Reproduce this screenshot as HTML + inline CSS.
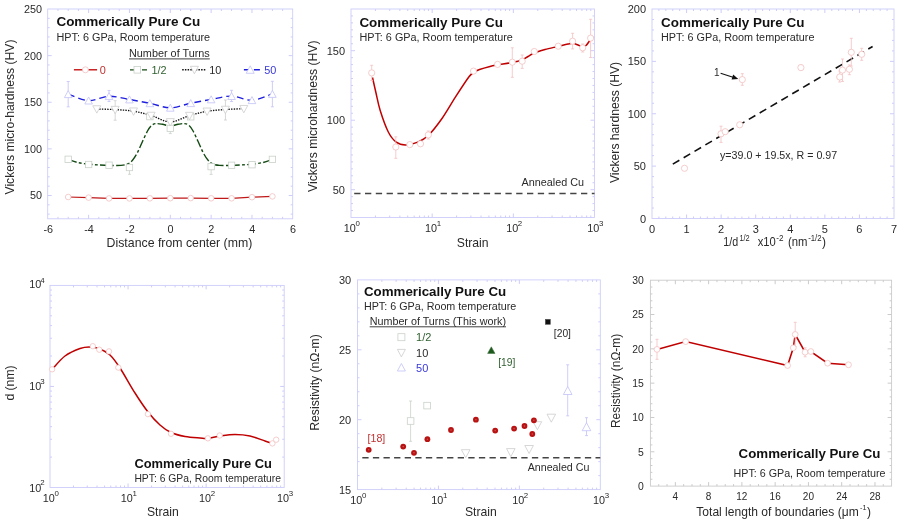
<!DOCTYPE html>
<html><head><meta charset="utf-8"><title>Commerically Pure Cu</title>
<style>html,body{margin:0;padding:0;background:#fff}svg{display:block}</style></head>
<body>
<svg width="900" height="522" viewBox="0 0 900 522" font-family='"Liberation Sans", sans-serif' fill="#2a2a2a">
<rect x="47.70" y="9.00" width="245.00" height="209.80" fill="none" stroke="#cdcdfb" stroke-width="0.9"/>
<path d="M88.62 218.80v-4M88.62 9.00v4M129.46 218.80v-4M129.46 9.00v4M170.30 218.80v-4M170.30 9.00v4M211.14 218.80v-4M211.14 9.00v4M251.98 218.80v-4M251.98 9.00v4M57.99 218.80v-2M57.99 9.00v2M68.20 218.80v-2M68.20 9.00v2M78.41 218.80v-2M78.41 9.00v2M98.83 218.80v-2M98.83 9.00v2M109.04 218.80v-2M109.04 9.00v2M119.25 218.80v-2M119.25 9.00v2M139.67 218.80v-2M139.67 9.00v2M149.88 218.80v-2M149.88 9.00v2M160.09 218.80v-2M160.09 9.00v2M180.51 218.80v-2M180.51 9.00v2M190.72 218.80v-2M190.72 9.00v2M200.93 218.80v-2M200.93 9.00v2M221.35 218.80v-2M221.35 9.00v2M231.56 218.80v-2M231.56 9.00v2M241.77 218.80v-2M241.77 9.00v2M262.19 218.80v-2M262.19 9.00v2M272.40 218.80v-2M272.40 9.00v2M282.61 218.80v-2M282.61 9.00v2M47.70 195.49h4M292.70 195.49h-4M47.70 148.87h4M292.70 148.87h-4M47.70 102.25h4M292.70 102.25h-4M47.70 55.63h4M292.70 55.63h-4M47.70 214.14h2M292.70 214.14h-2M47.70 204.81h2M292.70 204.81h-2M47.70 186.17h2M292.70 186.17h-2M47.70 176.84h2M292.70 176.84h-2M47.70 167.52h2M292.70 167.52h-2M47.70 158.19h2M292.70 158.19h-2M47.70 139.55h2M292.70 139.55h-2M47.70 130.22h2M292.70 130.22h-2M47.70 120.90h2M292.70 120.90h-2M47.70 111.57h2M292.70 111.57h-2M47.70 92.93h2M292.70 92.93h-2M47.70 83.60h2M292.70 83.60h-2M47.70 74.28h2M292.70 74.28h-2M47.70 64.95h2M292.70 64.95h-2M47.70 46.31h2M292.70 46.31h-2M47.70 36.98h2M292.70 36.98h-2M47.70 27.66h2M292.70 27.66h-2M47.70 18.33h2M292.70 18.33h-2" stroke="#cdcdfb" stroke-width="1" fill="none"/>
<text x="48.18" y="233.30" font-size="10.8" text-anchor="middle">-6</text>
<text x="89.02" y="233.30" font-size="10.8" text-anchor="middle">-4</text>
<text x="129.86" y="233.30" font-size="10.8" text-anchor="middle">-2</text>
<text x="170.50" y="233.30" font-size="10.8" text-anchor="middle">0</text>
<text x="211.34" y="233.30" font-size="10.8" text-anchor="middle">2</text>
<text x="252.18" y="233.30" font-size="10.8" text-anchor="middle">4</text>
<text x="293.02" y="233.30" font-size="10.8" text-anchor="middle">6</text>
<text x="42.00" y="199.39" font-size="10.8" text-anchor="end">50</text>
<text x="42.00" y="152.77" font-size="10.8" text-anchor="end">100</text>
<text x="42.00" y="106.15" font-size="10.8" text-anchor="end">150</text>
<text x="42.00" y="59.53" font-size="10.8" text-anchor="end">200</text>
<text x="42.00" y="12.91" font-size="10.8" text-anchor="end">250</text>
<text x="106.60" y="246.70" font-size="12.2" textLength="145.7" lengthAdjust="spacingAndGlyphs">Distance from center (mm)</text>
<text x="13.50" y="117.00" font-size="12.2" text-anchor="middle" textLength="155.0" lengthAdjust="spacingAndGlyphs" transform="rotate(-90 13.50 117.00)">Vickers micro-hardness (HV)</text>
<text x="56.40" y="26.30" font-size="13.5" font-weight="bold" fill="#111" textLength="143.9" lengthAdjust="spacingAndGlyphs">Commerically Pure Cu</text>
<text x="56.40" y="41.10" font-size="10.85" textLength="153.7" lengthAdjust="spacingAndGlyphs">HPT: 6 GPa, Room temperature</text>
<text x="129.00" y="56.80" font-size="11" textLength="80.8" lengthAdjust="spacingAndGlyphs">Number of Turns</text>
<path d="M129 58.9H209.8" stroke="#2a2a2a" stroke-width="0.9"/>
<path d="M68.20 94.20C71.60 95.27 81.81 100.27 88.62 100.60C95.43 100.93 102.23 96.38 109.04 96.20C115.85 96.02 122.65 98.32 129.46 99.50C136.27 100.68 143.07 101.92 149.88 103.30C156.69 104.68 163.49 107.82 170.30 107.80C177.11 107.78 183.91 104.60 190.72 103.20C197.53 101.80 204.33 100.58 211.14 99.40C217.95 98.22 224.75 95.97 231.56 96.10C238.37 96.23 245.17 100.55 251.98 100.20C258.79 99.85 269.00 95.03 272.40 94.00" fill="none" stroke="#1f1fe0" stroke-width="1.4" stroke-dasharray="6.8 4"/>
<path d="M96.79 109.00C99.85 109.10 109.04 109.23 115.17 109.60C121.29 109.97 127.55 110.22 133.54 111.20C139.53 112.18 144.98 113.72 151.11 115.50C157.23 117.28 163.90 121.88 170.30 121.90C176.70 121.92 183.37 117.37 189.49 115.60C195.62 113.83 201.07 112.32 207.06 111.30C213.05 110.28 219.31 109.93 225.43 109.50C231.56 109.07 240.75 108.83 243.81 108.70" fill="none" stroke="#111" stroke-width="1.35" stroke-dasharray="1.4 1.2"/>
<path d="M68.40 159.60C70.00 160.10 74.58 161.83 78.00 162.60C81.42 163.37 85.23 163.80 88.90 164.20C92.57 164.60 96.60 164.80 100.00 165.00C103.40 165.20 105.80 165.33 109.30 165.40C112.80 165.47 117.97 165.63 121.00 165.40C124.03 165.17 125.58 164.85 127.50 164.00C129.42 163.15 130.83 162.22 132.50 160.30C134.17 158.38 135.83 155.63 137.50 152.50C139.17 149.37 140.83 145.08 142.50 141.50C144.17 137.92 146.00 133.67 147.50 131.00C149.00 128.33 150.08 126.73 151.50 125.50C152.92 124.27 154.17 123.80 156.00 123.60C157.83 123.40 160.12 123.90 162.50 124.30C164.88 124.70 167.70 126.00 170.30 126.00C172.90 126.00 175.72 124.70 178.10 124.30C180.48 123.90 182.77 123.40 184.60 123.60C186.43 123.80 187.68 124.27 189.10 125.50C190.52 126.73 191.60 128.33 193.10 131.00C194.60 133.67 196.43 137.92 198.10 141.50C199.77 145.08 201.43 149.37 203.10 152.50C204.77 155.63 206.43 158.38 208.10 160.30C209.77 162.22 211.18 163.15 213.10 164.00C215.02 164.85 216.57 165.17 219.60 165.40C222.63 165.63 227.80 165.47 231.30 165.40C234.80 165.33 237.20 165.20 240.60 165.00C244.00 164.80 248.03 164.60 251.70 164.20C255.37 163.80 259.18 163.37 262.60 162.60C266.02 161.83 270.60 160.10 272.20 159.60" fill="none" stroke="#134a13" stroke-width="1.4" stroke-dasharray="8.6 2.3 2.9 2.3"/>
<path d="M68.20 197.00L88.62 197.60L109.04 198.40L129.46 198.40L149.88 198.30L170.30 198.20L190.72 198.10L211.14 198.30L231.56 198.30L251.98 197.20L272.40 196.40" fill="none" stroke="#c01818" stroke-width="1.25"/>
<path d="M68.20 81.50V106.80M66.70 81.50h3.0M66.70 106.80h3.0" stroke="#c2c2f7" stroke-width="0.8" fill="none"/>
<path d="M272.40 81.30V106.80M270.90 81.30h3.0M270.90 106.80h3.0" stroke="#c2c2f7" stroke-width="0.8" fill="none"/>
<path d="M109.04 90.50V101.50M107.54 90.50h3.0M107.54 101.50h3.0" stroke="#c2c2f7" stroke-width="0.8" fill="none"/>
<path d="M231.56 90.30V101.50M230.06 90.30h3.0M230.06 101.50h3.0" stroke="#c2c2f7" stroke-width="0.8" fill="none"/>
<path d="M115.17 100.70V120.20M113.67 100.70h3.0M113.67 120.20h3.0" stroke="#cdcdcd" stroke-width="0.8" fill="none"/>
<path d="M225.43 100.00V120.00M223.93 100.00h3.0M223.93 120.00h3.0" stroke="#cdcdcd" stroke-width="0.8" fill="none"/>
<path d="M129.46 167.50V174.30M127.96 167.50h3.0M127.96 174.30h3.0" stroke="#c9d1c9" stroke-width="0.8" fill="none"/>
<path d="M211.14 167.50V174.40M209.64 167.50h3.0M209.64 174.40h3.0" stroke="#c9d1c9" stroke-width="0.8" fill="none"/>
<path d="M170.30 123.00V133.60M168.80 123.00h3.0M168.80 133.60h3.0" stroke="#c9d1c9" stroke-width="0.8" fill="none"/>
<rect x="65.00" y="156.10" width="6.4" height="6.4" fill="#fff" stroke="#c9d1c9" stroke-width="0.8"/>
<rect x="85.42" y="161.30" width="6.4" height="6.4" fill="#fff" stroke="#c9d1c9" stroke-width="0.8"/>
<rect x="105.84" y="162.00" width="6.4" height="6.4" fill="#fff" stroke="#c9d1c9" stroke-width="0.8"/>
<rect x="126.26" y="164.30" width="6.4" height="6.4" fill="#fff" stroke="#c9d1c9" stroke-width="0.8"/>
<rect x="146.68" y="113.40" width="6.4" height="6.4" fill="#fff" stroke="#c9d1c9" stroke-width="0.8"/>
<rect x="167.10" y="125.20" width="6.4" height="6.4" fill="#fff" stroke="#c9d1c9" stroke-width="0.8"/>
<rect x="187.52" y="113.60" width="6.4" height="6.4" fill="#fff" stroke="#c9d1c9" stroke-width="0.8"/>
<rect x="207.94" y="163.40" width="6.4" height="6.4" fill="#fff" stroke="#c9d1c9" stroke-width="0.8"/>
<rect x="228.36" y="162.10" width="6.4" height="6.4" fill="#fff" stroke="#c9d1c9" stroke-width="0.8"/>
<rect x="248.78" y="161.50" width="6.4" height="6.4" fill="#fff" stroke="#c9d1c9" stroke-width="0.8"/>
<rect x="269.20" y="156.20" width="6.4" height="6.4" fill="#fff" stroke="#c9d1c9" stroke-width="0.8"/>
<polygon points="92.79,105.74 100.79,105.74 96.79,113.14" fill="#fff" stroke="#cdcdcd" stroke-width="0.8"/>
<polygon points="111.17,106.34 119.17,106.34 115.17,113.74" fill="#fff" stroke="#cdcdcd" stroke-width="0.8"/>
<polygon points="129.54,107.94 137.54,107.94 133.54,115.34" fill="#fff" stroke="#cdcdcd" stroke-width="0.8"/>
<polygon points="147.11,112.24 155.11,112.24 151.11,119.64" fill="#fff" stroke="#cdcdcd" stroke-width="0.8"/>
<polygon points="166.30,118.64 174.30,118.64 170.30,126.04" fill="#fff" stroke="#cdcdcd" stroke-width="0.8"/>
<polygon points="185.49,112.34 193.49,112.34 189.49,119.74" fill="#fff" stroke="#cdcdcd" stroke-width="0.8"/>
<polygon points="203.06,108.04 211.06,108.04 207.06,115.44" fill="#fff" stroke="#cdcdcd" stroke-width="0.8"/>
<polygon points="221.43,106.24 229.43,106.24 225.43,113.64" fill="#fff" stroke="#cdcdcd" stroke-width="0.8"/>
<polygon points="239.81,105.44 247.81,105.44 243.81,112.84" fill="#fff" stroke="#cdcdcd" stroke-width="0.8"/>
<polygon points="64.40,97.60 72.00,97.60 68.20,90.60" fill="#fff" stroke="#c2c2f7" stroke-width="0.8"/>
<polygon points="84.82,104.00 92.42,104.00 88.62,97.00" fill="#fff" stroke="#c2c2f7" stroke-width="0.8"/>
<polygon points="105.24,99.60 112.84,99.60 109.04,92.60" fill="#fff" stroke="#c2c2f7" stroke-width="0.8"/>
<polygon points="125.66,102.90 133.26,102.90 129.46,95.90" fill="#fff" stroke="#c2c2f7" stroke-width="0.8"/>
<polygon points="146.08,106.70 153.68,106.70 149.88,99.70" fill="#fff" stroke="#c2c2f7" stroke-width="0.8"/>
<polygon points="166.50,111.20 174.10,111.20 170.30,104.20" fill="#fff" stroke="#c2c2f7" stroke-width="0.8"/>
<polygon points="186.92,106.60 194.52,106.60 190.72,99.60" fill="#fff" stroke="#c2c2f7" stroke-width="0.8"/>
<polygon points="207.34,102.80 214.94,102.80 211.14,95.80" fill="#fff" stroke="#c2c2f7" stroke-width="0.8"/>
<polygon points="227.76,99.50 235.36,99.50 231.56,92.50" fill="#fff" stroke="#c2c2f7" stroke-width="0.8"/>
<polygon points="248.18,103.60 255.78,103.60 251.98,96.60" fill="#fff" stroke="#c2c2f7" stroke-width="0.8"/>
<polygon points="268.60,97.40 276.20,97.40 272.40,90.40" fill="#fff" stroke="#c2c2f7" stroke-width="0.8"/>
<circle cx="68.20" cy="197.00" r="2.8" fill="#fff" stroke="#f2c0c0" stroke-width="0.8"/>
<circle cx="88.62" cy="197.60" r="2.8" fill="#fff" stroke="#f2c0c0" stroke-width="0.8"/>
<circle cx="109.04" cy="198.40" r="2.8" fill="#fff" stroke="#f2c0c0" stroke-width="0.8"/>
<circle cx="129.46" cy="198.40" r="2.8" fill="#fff" stroke="#f2c0c0" stroke-width="0.8"/>
<circle cx="149.88" cy="198.30" r="2.8" fill="#fff" stroke="#f2c0c0" stroke-width="0.8"/>
<circle cx="170.30" cy="198.20" r="2.8" fill="#fff" stroke="#f2c0c0" stroke-width="0.8"/>
<circle cx="190.72" cy="198.10" r="2.8" fill="#fff" stroke="#f2c0c0" stroke-width="0.8"/>
<circle cx="211.14" cy="198.30" r="2.8" fill="#fff" stroke="#f2c0c0" stroke-width="0.8"/>
<circle cx="231.56" cy="198.30" r="2.8" fill="#fff" stroke="#f2c0c0" stroke-width="0.8"/>
<circle cx="251.98" cy="197.20" r="2.8" fill="#fff" stroke="#f2c0c0" stroke-width="0.8"/>
<circle cx="272.40" cy="196.40" r="2.8" fill="#fff" stroke="#f2c0c0" stroke-width="0.8"/>
<path d="M73.9 69.8H97.1" fill="none" stroke="#c00000" stroke-width="1.3"/>
<circle cx="85.40" cy="69.80" r="3.0" fill="#fff" stroke="#f2c0c0" stroke-width="0.8"/>
<text x="99.80" y="73.80" font-size="10.9" fill="#c03030">0</text>
<path d="M130 69.8H147" fill="none" stroke="#134a13" stroke-width="1.3" stroke-dasharray="6 2 2 2"/>
<rect x="134.00" y="66.50" width="6.6" height="6.6" fill="#fff" stroke="#c9d1c9" stroke-width="0.8"/>
<text x="151.50" y="73.80" font-size="10.9" fill="#2f5f2f">1/2</text>
<path d="M182.2 69.8H206.1" fill="none" stroke="#111" stroke-width="1.5" stroke-dasharray="1.5 1.2"/>
<polygon points="190.40,66.30 198.40,66.30 194.40,73.80" fill="#fff" stroke="#cdcdcd" stroke-width="0.8"/>
<text x="209.30" y="73.80" font-size="10.9">10</text>
<path d="M243.9 69.8H260.7" fill="none" stroke="#1f1fe0" stroke-width="1.5" stroke-dasharray="6 4"/>
<polygon points="246.20,73.30 254.20,73.30 250.20,65.80" fill="#fff" stroke="#c2c2f7" stroke-width="0.8"/>
<text x="264.30" y="73.80" font-size="10.9" fill="#3838d8">50</text>
<rect x="351.00" y="9.00" width="243.50" height="208.50" fill="none" stroke="#cdcdfb" stroke-width="0.9"/>
<path d="M432.17 217.50v-4M432.17 9.00v4M513.33 217.50v-4M513.33 9.00v4M375.43 217.50v-2M375.43 9.00v2M389.73 217.50v-2M389.73 9.00v2M399.87 217.50v-2M399.87 9.00v2M407.73 217.50v-2M407.73 9.00v2M414.16 217.50v-2M414.16 9.00v2M419.59 217.50v-2M419.59 9.00v2M424.30 217.50v-2M424.30 9.00v2M428.45 217.50v-2M428.45 9.00v2M456.60 217.50v-2M456.60 9.00v2M470.89 217.50v-2M470.89 9.00v2M481.03 217.50v-2M481.03 9.00v2M488.90 217.50v-2M488.90 9.00v2M495.33 217.50v-2M495.33 9.00v2M500.76 217.50v-2M500.76 9.00v2M505.47 217.50v-2M505.47 9.00v2M509.62 217.50v-2M509.62 9.00v2M537.77 217.50v-2M537.77 9.00v2M552.06 217.50v-2M552.06 9.00v2M562.20 217.50v-2M562.20 9.00v2M570.07 217.50v-2M570.07 9.00v2M576.49 217.50v-2M576.49 9.00v2M581.93 217.50v-2M581.93 9.00v2M586.63 217.50v-2M586.63 9.00v2M590.79 217.50v-2M590.79 9.00v2M351.00 189.70h4M594.50 189.70h-4M351.00 120.20h4M594.50 120.20h-4M351.00 50.70h4M594.50 50.70h-4M351.00 210.55h2M594.50 210.55h-2M351.00 203.60h2M594.50 203.60h-2M351.00 196.65h2M594.50 196.65h-2M351.00 182.75h2M594.50 182.75h-2M351.00 175.80h2M594.50 175.80h-2M351.00 168.85h2M594.50 168.85h-2M351.00 161.90h2M594.50 161.90h-2M351.00 154.95h2M594.50 154.95h-2M351.00 148.00h2M594.50 148.00h-2M351.00 141.05h2M594.50 141.05h-2M351.00 134.10h2M594.50 134.10h-2M351.00 127.15h2M594.50 127.15h-2M351.00 113.25h2M594.50 113.25h-2M351.00 106.30h2M594.50 106.30h-2M351.00 99.35h2M594.50 99.35h-2M351.00 92.40h2M594.50 92.40h-2M351.00 85.45h2M594.50 85.45h-2M351.00 78.50h2M594.50 78.50h-2M351.00 71.55h2M594.50 71.55h-2M351.00 64.60h2M594.50 64.60h-2M351.00 57.65h2M594.50 57.65h-2M351.00 43.75h2M594.50 43.75h-2M351.00 36.80h2M594.50 36.80h-2M351.00 29.85h2M594.50 29.85h-2M351.00 22.90h2M594.50 22.90h-2M351.00 15.95h2M594.50 15.95h-2" stroke="#cdcdfb" stroke-width="1" fill="none"/>
<text x="343.80" y="231.80" font-size="10.8">10</text>
<text x="355.50" y="226.20" font-size="7.9">0</text>
<text x="424.96" y="231.80" font-size="10.8">10</text>
<text x="436.67" y="226.20" font-size="7.9">1</text>
<text x="506.13" y="231.80" font-size="10.8">10</text>
<text x="517.84" y="226.20" font-size="7.9">2</text>
<text x="587.30" y="231.80" font-size="10.8">10</text>
<text x="599.00" y="226.20" font-size="7.9">3</text>
<text x="345.00" y="193.70" font-size="11" text-anchor="end">50</text>
<text x="345.00" y="124.20" font-size="11" text-anchor="end">100</text>
<text x="345.00" y="54.70" font-size="11" text-anchor="end">150</text>
<text x="472.70" y="246.70" font-size="12.2" text-anchor="middle">Strain</text>
<text x="317.20" y="116.20" font-size="12.2" text-anchor="middle" textLength="151.5" lengthAdjust="spacingAndGlyphs" transform="rotate(-90 317.20 116.20)">Vickers microhardness (HV)</text>
<text x="359.40" y="26.70" font-size="13.5" font-weight="bold" fill="#111" textLength="143.5" lengthAdjust="spacingAndGlyphs">Commerically Pure Cu</text>
<text x="359.40" y="41.20" font-size="10.85" textLength="153.5" lengthAdjust="spacingAndGlyphs">HPT: 6 GPa, Room temperature</text>
<text x="521.50" y="186.20" font-size="11" textLength="62.5" lengthAdjust="spacingAndGlyphs">Annealed Cu</text>
<path d="M354.2 193.5H594.5" fill="none" stroke="#444" stroke-width="1.6" stroke-dasharray="6.3 4.5"/>
<path d="M372.50 77.50C373.08 80.08 374.72 87.50 376.00 93.00C377.28 98.50 378.15 104.00 380.20 110.50C382.25 117.00 385.62 126.72 388.30 132.00C390.98 137.28 393.40 140.05 396.30 142.20C399.20 144.35 402.12 144.92 405.70 144.90C409.28 144.88 414.00 143.72 417.80 142.10C421.60 140.48 424.47 139.13 428.50 135.20C432.53 131.27 437.52 124.85 442.00 118.50C446.48 112.15 450.93 104.02 455.40 97.10C459.87 90.18 465.70 81.13 468.80 77.00C471.90 72.87 472.22 73.55 474.00 72.30C475.78 71.05 476.83 70.48 479.50 69.50C482.17 68.52 486.98 67.17 490.00 66.40C493.02 65.63 493.93 65.55 497.60 64.90C501.27 64.25 507.93 63.32 512.00 62.50C516.07 61.68 519.33 61.00 522.00 60.00C524.67 59.00 526.00 57.67 528.00 56.50C530.00 55.33 531.17 54.17 534.00 53.00C536.83 51.83 541.00 50.60 545.00 49.50C549.00 48.40 554.17 47.32 558.00 46.40C561.83 45.48 565.50 44.52 568.00 44.00C570.50 43.48 571.33 43.13 573.00 43.30C574.67 43.47 576.42 44.42 578.00 45.00C579.58 45.58 581.17 46.72 582.50 46.80C583.83 46.88 584.65 46.72 586.00 45.50C587.35 44.28 589.83 40.50 590.60 39.50" fill="none" stroke="#c00000" stroke-width="1.5"/>
<path d="M371.70 65.30V80.50M370.20 65.30h3.0M370.20 80.50h3.0" stroke="#f2c0c0" stroke-width="0.8" fill="none"/>
<path d="M395.80 136.80V158.30M394.30 136.80h3.0M394.30 158.30h3.0" stroke="#f2c0c0" stroke-width="0.8" fill="none"/>
<path d="M428.30 131.00V139.00M426.80 131.00h3.0M426.80 139.00h3.0" stroke="#f2c0c0" stroke-width="0.8" fill="none"/>
<path d="M512.30 47.80V77.30M510.80 47.80h3.0M510.80 77.30h3.0" stroke="#f2c0c0" stroke-width="0.8" fill="none"/>
<path d="M522.20 55.00V68.40M520.70 55.00h3.0M520.70 68.40h3.0" stroke="#f2c0c0" stroke-width="0.8" fill="none"/>
<path d="M572.60 33.30V48.90M571.10 33.30h3.0M571.10 48.90h3.0" stroke="#f2c0c0" stroke-width="0.8" fill="none"/>
<path d="M582.70 44.00V52.00M581.20 44.00h3.0M581.20 52.00h3.0" stroke="#f2c0c0" stroke-width="0.8" fill="none"/>
<path d="M590.60 19.30V57.50M589.10 19.30h3.0M589.10 57.50h3.0" stroke="#f2c0c0" stroke-width="0.8" fill="none"/>
<circle cx="371.70" cy="72.90" r="3.1" fill="#fff" stroke="#f2c0c0" stroke-width="0.8"/>
<circle cx="395.80" cy="147.00" r="3.1" fill="#fff" stroke="#f2c0c0" stroke-width="0.8"/>
<circle cx="409.80" cy="144.60" r="3.1" fill="#fff" stroke="#f2c0c0" stroke-width="0.8"/>
<circle cx="420.50" cy="143.80" r="3.1" fill="#fff" stroke="#f2c0c0" stroke-width="0.8"/>
<circle cx="428.30" cy="134.90" r="3.1" fill="#fff" stroke="#f2c0c0" stroke-width="0.8"/>
<circle cx="473.50" cy="71.10" r="3.1" fill="#fff" stroke="#f2c0c0" stroke-width="0.8"/>
<circle cx="497.60" cy="64.40" r="3.1" fill="#fff" stroke="#f2c0c0" stroke-width="0.8"/>
<circle cx="512.30" cy="62.20" r="3.1" fill="#fff" stroke="#f2c0c0" stroke-width="0.8"/>
<circle cx="522.20" cy="61.20" r="3.1" fill="#fff" stroke="#f2c0c0" stroke-width="0.8"/>
<circle cx="534.30" cy="51.50" r="3.1" fill="#fff" stroke="#f2c0c0" stroke-width="0.8"/>
<circle cx="558.20" cy="46.20" r="3.1" fill="#fff" stroke="#f2c0c0" stroke-width="0.8"/>
<circle cx="572.60" cy="41.20" r="3.1" fill="#fff" stroke="#f2c0c0" stroke-width="0.8"/>
<circle cx="582.70" cy="47.80" r="3.1" fill="#fff" stroke="#f2c0c0" stroke-width="0.8"/>
<circle cx="590.60" cy="38.10" r="3.1" fill="#fff" stroke="#f2c0c0" stroke-width="0.8"/>
<rect x="652.00" y="9.00" width="242.00" height="209.50" fill="none" stroke="#cdcdfb" stroke-width="0.9"/>
<path d="M686.57 218.50v-4M686.57 9.00v4M721.14 218.50v-4M721.14 9.00v4M755.71 218.50v-4M755.71 9.00v4M790.29 218.50v-4M790.29 9.00v4M824.86 218.50v-4M824.86 9.00v4M859.43 218.50v-4M859.43 9.00v4M658.91 218.50v-2M658.91 9.00v2M665.83 218.50v-2M665.83 9.00v2M672.74 218.50v-2M672.74 9.00v2M679.66 218.50v-2M679.66 9.00v2M693.49 218.50v-2M693.49 9.00v2M700.40 218.50v-2M700.40 9.00v2M707.31 218.50v-2M707.31 9.00v2M714.23 218.50v-2M714.23 9.00v2M728.06 218.50v-2M728.06 9.00v2M734.97 218.50v-2M734.97 9.00v2M741.89 218.50v-2M741.89 9.00v2M748.80 218.50v-2M748.80 9.00v2M762.63 218.50v-2M762.63 9.00v2M769.54 218.50v-2M769.54 9.00v2M776.46 218.50v-2M776.46 9.00v2M783.37 218.50v-2M783.37 9.00v2M797.20 218.50v-2M797.20 9.00v2M804.11 218.50v-2M804.11 9.00v2M811.03 218.50v-2M811.03 9.00v2M817.94 218.50v-2M817.94 9.00v2M831.77 218.50v-2M831.77 9.00v2M838.69 218.50v-2M838.69 9.00v2M845.60 218.50v-2M845.60 9.00v2M852.51 218.50v-2M852.51 9.00v2M866.34 218.50v-2M866.34 9.00v2M873.26 218.50v-2M873.26 9.00v2M880.17 218.50v-2M880.17 9.00v2M887.09 218.50v-2M887.09 9.00v2M652.00 166.12h4M894.00 166.12h-4M652.00 113.75h4M894.00 113.75h-4M652.00 61.37h4M894.00 61.37h-4M652.00 208.03h2M894.00 208.03h-2M652.00 197.55h2M894.00 197.55h-2M652.00 187.07h2M894.00 187.07h-2M652.00 176.60h2M894.00 176.60h-2M652.00 155.65h2M894.00 155.65h-2M652.00 145.18h2M894.00 145.18h-2M652.00 134.70h2M894.00 134.70h-2M652.00 124.22h2M894.00 124.22h-2M652.00 103.27h2M894.00 103.27h-2M652.00 92.80h2M894.00 92.80h-2M652.00 82.32h2M894.00 82.32h-2M652.00 71.85h2M894.00 71.85h-2M652.00 50.90h2M894.00 50.90h-2M652.00 40.42h2M894.00 40.42h-2M652.00 29.95h2M894.00 29.95h-2M652.00 19.47h2M894.00 19.47h-2" stroke="#cdcdfb" stroke-width="1" fill="none"/>
<text x="652.00" y="233.00" font-size="11" text-anchor="middle">0</text>
<text x="686.57" y="233.00" font-size="11" text-anchor="middle">1</text>
<text x="721.14" y="233.00" font-size="11" text-anchor="middle">2</text>
<text x="755.71" y="233.00" font-size="11" text-anchor="middle">3</text>
<text x="790.29" y="233.00" font-size="11" text-anchor="middle">4</text>
<text x="824.86" y="233.00" font-size="11" text-anchor="middle">5</text>
<text x="859.43" y="233.00" font-size="11" text-anchor="middle">6</text>
<text x="894.00" y="233.00" font-size="11" text-anchor="middle">7</text>
<text x="646.00" y="222.50" font-size="11" text-anchor="end">0</text>
<text x="646.00" y="170.12" font-size="11" text-anchor="end">50</text>
<text x="646.00" y="117.75" font-size="11" text-anchor="end">100</text>
<text x="646.00" y="65.37" font-size="11" text-anchor="end">150</text>
<text x="646.00" y="13.00" font-size="11" text-anchor="end">200</text>
<text x="618.60" y="122.50" font-size="12.2" text-anchor="middle" textLength="121.2" lengthAdjust="spacingAndGlyphs" transform="rotate(-90 618.60 122.50)">Vickers hardness (HV)</text>
<text x="661.00" y="26.60" font-size="13.5" font-weight="bold" fill="#111" textLength="143.5" lengthAdjust="spacingAndGlyphs">Commerically Pure Cu</text>
<text x="661.00" y="41.20" font-size="10.85" textLength="153.5" lengthAdjust="spacingAndGlyphs">HPT: 6 GPa, Room temperature</text>
<text x="720.00" y="159.20" font-size="11" textLength="117.2" lengthAdjust="spacingAndGlyphs">y=39.0 + 19.5x, R = 0.97</text>
<path d="M672.8 164.1L872.6 46.5" fill="none" stroke="#111" stroke-width="1.6" stroke-dasharray="7.6 5"/>
<text x="714.00" y="76.40" font-size="10">1</text>
<path d="M720.6 73.3L733 77.3" stroke="#111" stroke-width="1.2" fill="none"/><polygon points="738.3,79 731.6,79.6 733.2,74.6" fill="#111"/>
<path d="M721.00 126.20V142.40M719.50 126.20h3.0M719.50 142.40h3.0" stroke="#f2c0c0" stroke-width="0.8" fill="none"/>
<path d="M742.30 73.70V85.30M740.80 73.70h3.0M740.80 85.30h3.0" stroke="#f2c0c0" stroke-width="0.8" fill="none"/>
<path d="M800.90 65.00V70.00M799.40 65.00h3.0M799.40 70.00h3.0" stroke="#f2c0c0" stroke-width="0.8" fill="none"/>
<path d="M839.70 71.00V82.00M838.20 71.00h3.0M838.20 82.00h3.0" stroke="#f2c0c0" stroke-width="0.8" fill="none"/>
<path d="M842.50 59.00V81.40M841.00 59.00h3.0M841.00 81.40h3.0" stroke="#f2c0c0" stroke-width="0.8" fill="none"/>
<path d="M849.40 65.00V74.70M847.90 65.00h3.0M847.90 74.70h3.0" stroke="#f2c0c0" stroke-width="0.8" fill="none"/>
<path d="M851.30 38.30V66.00M849.80 38.30h3.0M849.80 66.00h3.0" stroke="#f2c0c0" stroke-width="0.8" fill="none"/>
<path d="M861.70 48.30V60.30M860.20 48.30h3.0M860.20 60.30h3.0" stroke="#f2c0c0" stroke-width="0.8" fill="none"/>
<circle cx="684.50" cy="168.30" r="3.1" fill="#fff" stroke="#f2c0c0" stroke-width="0.8"/>
<circle cx="721.00" cy="133.80" r="3.1" fill="#fff" stroke="#f2c0c0" stroke-width="0.8"/>
<circle cx="725.20" cy="131.70" r="3.1" fill="#fff" stroke="#f2c0c0" stroke-width="0.8"/>
<circle cx="739.70" cy="124.80" r="3.1" fill="#fff" stroke="#f2c0c0" stroke-width="0.8"/>
<circle cx="742.30" cy="79.60" r="3.1" fill="#fff" stroke="#f2c0c0" stroke-width="0.8"/>
<circle cx="800.90" cy="67.60" r="3.1" fill="#fff" stroke="#f2c0c0" stroke-width="0.8"/>
<circle cx="839.70" cy="77.00" r="3.1" fill="#fff" stroke="#f2c0c0" stroke-width="0.8"/>
<circle cx="842.50" cy="70.10" r="3.1" fill="#fff" stroke="#f2c0c0" stroke-width="0.8"/>
<circle cx="849.40" cy="69.30" r="3.1" fill="#fff" stroke="#f2c0c0" stroke-width="0.8"/>
<circle cx="851.30" cy="52.30" r="3.1" fill="#fff" stroke="#f2c0c0" stroke-width="0.8"/>
<circle cx="861.70" cy="54.30" r="3.1" fill="#fff" stroke="#f2c0c0" stroke-width="0.8"/>
<text x="723.30" y="246.20" font-size="12" textLength="14.9" lengthAdjust="spacingAndGlyphs">1/d</text>
<text x="739.40" y="241.00" font-size="8.2" textLength="10.3" lengthAdjust="spacingAndGlyphs">1/2</text>
<text x="757.70" y="246.20" font-size="12" textLength="18.1" lengthAdjust="spacingAndGlyphs">x10</text>
<text x="776.30" y="241.00" font-size="8.2" textLength="7.2" lengthAdjust="spacingAndGlyphs">-2</text>
<text x="788.00" y="246.20" font-size="12" textLength="19.5" lengthAdjust="spacingAndGlyphs">(nm</text>
<text x="808.20" y="241.00" font-size="8.2" textLength="13.4" lengthAdjust="spacingAndGlyphs">-1/2</text>
<text x="822.00" y="246.20" font-size="12">)</text>
<rect x="50.00" y="285.40" width="234.20" height="202.10" fill="none" stroke="#cdcdfb" stroke-width="0.9"/>
<path d="M128.07 487.50v-4M128.07 285.40v4M206.13 487.50v-4M206.13 285.40v4M73.50 487.50v-2M73.50 285.40v2M87.25 487.50v-2M87.25 285.40v2M97.00 487.50v-2M97.00 285.40v2M104.57 487.50v-2M104.57 285.40v2M110.75 487.50v-2M110.75 285.40v2M115.97 487.50v-2M115.97 285.40v2M120.50 487.50v-2M120.50 285.40v2M124.49 487.50v-2M124.49 285.40v2M151.57 487.50v-2M151.57 285.40v2M165.31 487.50v-2M165.31 285.40v2M175.07 487.50v-2M175.07 285.40v2M182.63 487.50v-2M182.63 285.40v2M188.81 487.50v-2M188.81 285.40v2M194.04 487.50v-2M194.04 285.40v2M198.57 487.50v-2M198.57 285.40v2M202.56 487.50v-2M202.56 285.40v2M229.63 487.50v-2M229.63 285.40v2M243.38 487.50v-2M243.38 285.40v2M253.13 487.50v-2M253.13 285.40v2M260.70 487.50v-2M260.70 285.40v2M266.88 487.50v-2M266.88 285.40v2M272.11 487.50v-2M272.11 285.40v2M276.63 487.50v-2M276.63 285.40v2M280.63 487.50v-2M280.63 285.40v2M50.00 386.45h4M284.20 386.45h-4M50.00 457.08h2M284.20 457.08h-2M50.00 439.29h2M284.20 439.29h-2M50.00 426.66h2M284.20 426.66h-2M50.00 416.87h2M284.20 416.87h-2M50.00 408.87h2M284.20 408.87h-2M50.00 402.10h2M284.20 402.10h-2M50.00 396.24h2M284.20 396.24h-2M50.00 391.07h2M284.20 391.07h-2M50.00 356.03h2M284.20 356.03h-2M50.00 338.24h2M284.20 338.24h-2M50.00 325.61h2M284.20 325.61h-2M50.00 315.82h2M284.20 315.82h-2M50.00 307.82h2M284.20 307.82h-2M50.00 301.05h2M284.20 301.05h-2M50.00 295.19h2M284.20 295.19h-2M50.00 290.02h2M284.20 290.02h-2" stroke="#cdcdfb" stroke-width="1" fill="none"/>
<text x="42.80" y="501.50" font-size="10.8">10</text>
<text x="54.50" y="495.90" font-size="7.9">0</text>
<text x="120.86" y="501.50" font-size="10.8">10</text>
<text x="132.57" y="495.90" font-size="7.9">1</text>
<text x="198.93" y="501.50" font-size="10.8">10</text>
<text x="210.64" y="495.90" font-size="7.9">2</text>
<text x="277.00" y="501.50" font-size="10.8">10</text>
<text x="288.70" y="495.90" font-size="7.9">3</text>
<text x="29.20" y="491.80" font-size="10.8">10</text>
<text x="40.20" y="485.30" font-size="7.9">2</text>
<text x="29.20" y="390.35" font-size="10.8">10</text>
<text x="40.20" y="384.25" font-size="7.9">3</text>
<text x="29.20" y="288.30" font-size="10.8">10</text>
<text x="40.20" y="283.20" font-size="7.9">4</text>
<text x="162.80" y="516.40" font-size="12.2" text-anchor="middle">Strain</text>
<text x="13.60" y="383.00" font-size="12.2" text-anchor="middle" transform="rotate(-90 13.60 383.00)">d (nm)</text>
<text x="134.40" y="468.10" font-size="13" font-weight="bold" fill="#111" textLength="137.6" lengthAdjust="spacingAndGlyphs">Commerically Pure Cu</text>
<text x="134.40" y="482.20" font-size="10.5" textLength="146.6" lengthAdjust="spacingAndGlyphs">HPT: 6 GPa, Room temperature</text>
<path d="M52.00 369.50C54.17 367.25 60.33 359.50 65.00 356.00C69.67 352.50 75.83 350.00 80.00 348.50C84.17 347.00 86.67 346.92 90.00 347.00C93.33 347.08 96.67 347.67 100.00 349.00C103.33 350.33 106.67 351.83 110.00 355.00C113.33 358.17 115.83 361.67 120.00 368.00C124.17 374.33 130.33 385.67 135.00 393.00C139.67 400.33 143.83 406.67 148.00 412.00C152.17 417.33 156.17 421.58 160.00 425.00C163.83 428.42 166.83 430.58 171.00 432.50C175.17 434.42 180.17 435.58 185.00 436.50C189.83 437.42 196.17 437.70 200.00 438.00C203.83 438.30 204.67 438.63 208.00 438.30C211.33 437.97 215.50 436.63 220.00 436.00C224.50 435.37 230.00 434.50 235.00 434.50C240.00 434.50 245.00 434.92 250.00 436.00C255.00 437.08 261.25 439.73 265.00 441.00C268.75 442.27 271.25 443.17 272.50 443.60" fill="none" stroke="#c00000" stroke-width="1.5"/>
<circle cx="52.10" cy="369.30" r="2.7" fill="#fff" stroke="#f2c0c0" stroke-width="0.8"/>
<circle cx="92.80" cy="346.20" r="2.7" fill="#fff" stroke="#f2c0c0" stroke-width="0.8"/>
<circle cx="99.30" cy="349.70" r="2.7" fill="#fff" stroke="#f2c0c0" stroke-width="0.8"/>
<circle cx="109.00" cy="351.40" r="2.7" fill="#fff" stroke="#f2c0c0" stroke-width="0.8"/>
<circle cx="118.30" cy="367.60" r="2.7" fill="#fff" stroke="#f2c0c0" stroke-width="0.8"/>
<circle cx="147.90" cy="414.10" r="2.7" fill="#fff" stroke="#f2c0c0" stroke-width="0.8"/>
<circle cx="171.00" cy="433.80" r="2.7" fill="#fff" stroke="#f2c0c0" stroke-width="0.8"/>
<circle cx="207.90" cy="438.30" r="2.7" fill="#fff" stroke="#f2c0c0" stroke-width="0.8"/>
<circle cx="219.70" cy="435.50" r="2.7" fill="#fff" stroke="#f2c0c0" stroke-width="0.8"/>
<circle cx="272.40" cy="443.40" r="2.7" fill="#fff" stroke="#f2c0c0" stroke-width="0.8"/>
<circle cx="276.20" cy="439.70" r="2.7" fill="#fff" stroke="#f2c0c0" stroke-width="0.8"/>
<rect x="357.50" y="279.90" width="242.80" height="209.70" fill="none" stroke="#cdcdfb" stroke-width="0.9"/>
<path d="M438.43 489.60v-4M438.43 279.90v4M519.37 489.60v-4M519.37 279.90v4M381.86 489.60v-2M381.86 279.90v2M396.12 489.60v-2M396.12 279.90v2M406.23 489.60v-2M406.23 279.90v2M414.07 489.60v-2M414.07 279.90v2M420.48 489.60v-2M420.48 279.90v2M425.90 489.60v-2M425.90 279.90v2M430.59 489.60v-2M430.59 279.90v2M434.73 489.60v-2M434.73 279.90v2M462.80 489.60v-2M462.80 279.90v2M477.05 489.60v-2M477.05 279.90v2M487.16 489.60v-2M487.16 279.90v2M495.00 489.60v-2M495.00 279.90v2M501.41 489.60v-2M501.41 279.90v2M506.83 489.60v-2M506.83 279.90v2M511.52 489.60v-2M511.52 279.90v2M515.66 489.60v-2M515.66 279.90v2M543.73 489.60v-2M543.73 279.90v2M557.98 489.60v-2M557.98 279.90v2M568.09 489.60v-2M568.09 279.90v2M575.94 489.60v-2M575.94 279.90v2M582.35 489.60v-2M582.35 279.90v2M587.76 489.60v-2M587.76 279.90v2M592.46 489.60v-2M592.46 279.90v2M596.60 489.60v-2M596.60 279.90v2M357.50 419.70h4M600.30 419.70h-4M357.50 349.80h4M600.30 349.80h-4M357.50 475.62h2M600.30 475.62h-2M357.50 461.64h2M600.30 461.64h-2M357.50 447.66h2M600.30 447.66h-2M357.50 433.68h2M600.30 433.68h-2M357.50 405.72h2M600.30 405.72h-2M357.50 391.74h2M600.30 391.74h-2M357.50 377.76h2M600.30 377.76h-2M357.50 363.78h2M600.30 363.78h-2M357.50 335.82h2M600.30 335.82h-2M357.50 321.84h2M600.30 321.84h-2M357.50 307.86h2M600.30 307.86h-2M357.50 293.88h2M600.30 293.88h-2" stroke="#cdcdfb" stroke-width="1" fill="none"/>
<text x="350.30" y="503.80" font-size="10.8">10</text>
<text x="362.00" y="498.20" font-size="7.9">0</text>
<text x="431.23" y="503.80" font-size="10.8">10</text>
<text x="442.94" y="498.20" font-size="7.9">1</text>
<text x="512.16" y="503.80" font-size="10.8">10</text>
<text x="523.87" y="498.20" font-size="7.9">2</text>
<text x="593.10" y="503.80" font-size="10.8">10</text>
<text x="604.80" y="498.20" font-size="7.9">3</text>
<text x="351.20" y="493.60" font-size="11" text-anchor="end">15</text>
<text x="351.20" y="423.70" font-size="11" text-anchor="end">20</text>
<text x="351.20" y="353.80" font-size="11" text-anchor="end">25</text>
<text x="351.20" y="283.90" font-size="11" text-anchor="end">30</text>
<text x="480.90" y="516.20" font-size="12.2" text-anchor="middle">Strain</text>
<text x="319.00" y="382.50" font-size="12" text-anchor="middle" textLength="96.5" lengthAdjust="spacingAndGlyphs" transform="rotate(-90 319.00 382.50)">Resistivity (n&#937;-m)</text>
<text x="363.90" y="295.60" font-size="13.4" font-weight="bold" fill="#111" textLength="142.3" lengthAdjust="spacingAndGlyphs">Commerically Pure Cu</text>
<text x="363.90" y="309.80" font-size="11" textLength="152.4" lengthAdjust="spacingAndGlyphs">HPT: 6 GPa, Room temperature</text>
<text x="369.70" y="324.80" font-size="11" textLength="136.3" lengthAdjust="spacingAndGlyphs">Number of Turns (This work)</text>
<path d="M369.7 326.8H506" stroke="#2a2a2a" stroke-width="0.9"/>
<rect x="397.90" y="333.70" width="7" height="7" fill="#fff" stroke="#c9d1c9" stroke-width="0.8"/>
<text x="416.10" y="341.30" font-size="11" fill="#2f5f2f">1/2</text>
<polygon points="397.40,349.40 405.40,349.40 401.40,356.90" fill="#fff" stroke="#cdcdcd" stroke-width="0.8"/>
<text x="416.10" y="357.20" font-size="11">10</text>
<polygon points="397.40,371.00 405.40,371.00 401.40,363.50" fill="#fff" stroke="#c2c2f7" stroke-width="0.8"/>
<text x="416.10" y="371.80" font-size="11" fill="#3838d8">50</text>
<path d="M362.3 457.7H600.3" fill="none" stroke="#444" stroke-width="1.6" stroke-dasharray="6.3 4.3"/>
<text x="527.70" y="471.30" font-size="11" textLength="61.7" lengthAdjust="spacingAndGlyphs">Annealed Cu</text>
<text x="367.60" y="442.00" font-size="11" fill="#c03030" textLength="17.7" lengthAdjust="spacingAndGlyphs">[18]</text>
<text x="498.20" y="365.70" font-size="11" fill="#2f5f2f" textLength="17.2" lengthAdjust="spacingAndGlyphs">[19]</text>
<text x="553.80" y="337.00" font-size="11" textLength="17.2" lengthAdjust="spacingAndGlyphs">[20]</text>
<rect x="545.3" y="319.3" width="5" height="5" fill="#111" stroke="#555" stroke-width="0.6"/>
<polygon points="487.6,353.4 495,353.4 491.3,346.8" fill="#1d5a1d" stroke="#3a6a3a" stroke-width="0.5"/>
<path d="M410.60 401.00V441.30M409.10 401.00h3.0M409.10 441.30h3.0" stroke="#c9d1c9" stroke-width="0.8" fill="none"/>
<rect x="407.30" y="417.70" width="6.6" height="6.6" fill="#fff" stroke="#c9d1c9" stroke-width="0.8"/>
<rect x="423.80" y="402.30" width="6.6" height="6.6" fill="#fff" stroke="#c9d1c9" stroke-width="0.8"/>
<path d="M567.70 364.80V415.80M566.20 364.80h3.0M566.20 415.80h3.0" stroke="#c2c2f7" stroke-width="0.8" fill="none"/>
<path d="M586.50 417.70V435.60M585.00 417.70h3.0M585.00 435.60h3.0" stroke="#c2c2f7" stroke-width="0.8" fill="none"/>
<polygon points="461.40,449.70 470.00,449.70 465.70,457.70" fill="#fff" stroke="#cdcdcd" stroke-width="0.8"/>
<polygon points="506.50,448.60 515.10,448.60 510.80,456.60" fill="#fff" stroke="#cdcdcd" stroke-width="0.8"/>
<polygon points="524.80,445.50 533.40,445.50 529.10,453.50" fill="#fff" stroke="#cdcdcd" stroke-width="0.8"/>
<polygon points="533.10,421.70 541.70,421.70 537.40,429.70" fill="#fff" stroke="#cdcdcd" stroke-width="0.8"/>
<polygon points="547.00,414.20 555.60,414.20 551.30,422.20" fill="#fff" stroke="#cdcdcd" stroke-width="0.8"/>
<polygon points="563.40,394.50 572.00,394.50 567.70,386.50" fill="#fff" stroke="#c2c2f7" stroke-width="0.8"/>
<polygon points="582.20,430.70 590.80,430.70 586.50,422.70" fill="#fff" stroke="#c2c2f7" stroke-width="0.8"/>
<circle cx="368.7" cy="449.8" r="2.9" fill="#b81212"/><circle cx="368.7" cy="449.8" r="0.8" fill="#d05050"/>
<circle cx="403.2" cy="446.6" r="2.9" fill="#b81212"/><circle cx="403.2" cy="446.6" r="0.8" fill="#d05050"/>
<circle cx="414" cy="452.8" r="2.9" fill="#b81212"/><circle cx="414" cy="452.8" r="0.8" fill="#d05050"/>
<circle cx="427.4" cy="439.2" r="2.9" fill="#b81212"/><circle cx="427.4" cy="439.2" r="0.8" fill="#d05050"/>
<circle cx="451" cy="430" r="2.9" fill="#b81212"/><circle cx="451" cy="430" r="0.8" fill="#d05050"/>
<circle cx="475.9" cy="419.7" r="2.9" fill="#b81212"/><circle cx="475.9" cy="419.7" r="0.8" fill="#d05050"/>
<circle cx="495.2" cy="430.6" r="2.9" fill="#b81212"/><circle cx="495.2" cy="430.6" r="0.8" fill="#d05050"/>
<circle cx="514.1" cy="428.6" r="2.9" fill="#b81212"/><circle cx="514.1" cy="428.6" r="0.8" fill="#d05050"/>
<circle cx="524.5" cy="426" r="2.9" fill="#b81212"/><circle cx="524.5" cy="426" r="0.8" fill="#d05050"/>
<circle cx="533.9" cy="420.3" r="2.9" fill="#b81212"/><circle cx="533.9" cy="420.3" r="0.8" fill="#d05050"/>
<circle cx="532.3" cy="434" r="2.9" fill="#b81212"/><circle cx="532.3" cy="434" r="0.8" fill="#d05050"/>
<rect x="650.40" y="280.20" width="241.20" height="205.90" fill="none" stroke="#cbcbcb" stroke-width="0.9"/>
<path d="M675.35 486.10v-4M675.35 280.20v4M708.62 486.10v-4M708.62 280.20v4M741.89 486.10v-4M741.89 280.20v4M775.16 486.10v-4M775.16 280.20v4M808.43 486.10v-4M808.43 280.20v4M841.70 486.10v-4M841.70 280.20v4M874.97 486.10v-4M874.97 280.20v4M658.72 486.10v-2M658.72 280.20v2M667.03 486.10v-2M667.03 280.20v2M683.67 486.10v-2M683.67 280.20v2M691.99 486.10v-2M691.99 280.20v2M700.30 486.10v-2M700.30 280.20v2M716.94 486.10v-2M716.94 280.20v2M725.26 486.10v-2M725.26 280.20v2M733.57 486.10v-2M733.57 280.20v2M750.21 486.10v-2M750.21 280.20v2M758.52 486.10v-2M758.52 280.20v2M766.84 486.10v-2M766.84 280.20v2M783.48 486.10v-2M783.48 280.20v2M791.79 486.10v-2M791.79 280.20v2M800.11 486.10v-2M800.11 280.20v2M816.74 486.10v-2M816.74 280.20v2M825.06 486.10v-2M825.06 280.20v2M833.38 486.10v-2M833.38 280.20v2M850.01 486.10v-2M850.01 280.20v2M858.33 486.10v-2M858.33 280.20v2M866.65 486.10v-2M866.65 280.20v2M883.28 486.10v-2M883.28 280.20v2M650.40 451.78h4M891.60 451.78h-4M650.40 417.47h4M891.60 417.47h-4M650.40 383.15h4M891.60 383.15h-4M650.40 348.83h4M891.60 348.83h-4M650.40 314.52h4M891.60 314.52h-4M650.40 479.24h2M891.60 479.24h-2M650.40 472.37h2M891.60 472.37h-2M650.40 465.51h2M891.60 465.51h-2M650.40 458.65h2M891.60 458.65h-2M650.40 444.92h2M891.60 444.92h-2M650.40 438.06h2M891.60 438.06h-2M650.40 431.19h2M891.60 431.19h-2M650.40 424.33h2M891.60 424.33h-2M650.40 410.60h2M891.60 410.60h-2M650.40 403.74h2M891.60 403.74h-2M650.40 396.88h2M891.60 396.88h-2M650.40 390.01h2M891.60 390.01h-2M650.40 376.29h2M891.60 376.29h-2M650.40 369.42h2M891.60 369.42h-2M650.40 362.56h2M891.60 362.56h-2M650.40 355.70h2M891.60 355.70h-2M650.40 341.97h2M891.60 341.97h-2M650.40 335.11h2M891.60 335.11h-2M650.40 328.24h2M891.60 328.24h-2M650.40 321.38h2M891.60 321.38h-2M650.40 307.65h2M891.60 307.65h-2M650.40 300.79h2M891.60 300.79h-2M650.40 293.93h2M891.60 293.93h-2M650.40 287.06h2M891.60 287.06h-2" stroke="#cbcbcb" stroke-width="1" fill="none"/>
<text x="675.35" y="500.20" font-size="10" text-anchor="middle">4</text>
<text x="708.62" y="500.20" font-size="10" text-anchor="middle">8</text>
<text x="741.89" y="500.20" font-size="10" text-anchor="middle">12</text>
<text x="775.16" y="500.20" font-size="10" text-anchor="middle">16</text>
<text x="808.43" y="500.20" font-size="10" text-anchor="middle">20</text>
<text x="841.70" y="500.20" font-size="10" text-anchor="middle">24</text>
<text x="874.97" y="500.20" font-size="10" text-anchor="middle">28</text>
<text x="643.80" y="489.90" font-size="10.4" text-anchor="end">0</text>
<text x="643.80" y="455.58" font-size="10.4" text-anchor="end">5</text>
<text x="643.80" y="421.27" font-size="10.4" text-anchor="end">10</text>
<text x="643.80" y="386.95" font-size="10.4" text-anchor="end">15</text>
<text x="643.80" y="352.63" font-size="10.4" text-anchor="end">20</text>
<text x="643.80" y="318.32" font-size="10.4" text-anchor="end">25</text>
<text x="643.80" y="284.00" font-size="10.4" text-anchor="end">30</text>
<text x="620.30" y="380.90" font-size="12" text-anchor="middle" textLength="94.2" lengthAdjust="spacingAndGlyphs" transform="rotate(-90 620.30 380.90)">Resistivity (n&#937;-m)</text>
<text x="738.60" y="457.90" font-size="13.4" font-weight="bold" fill="#111" textLength="141.9" lengthAdjust="spacingAndGlyphs">Commerically Pure Cu</text>
<text x="733.50" y="476.50" font-size="11" textLength="152.0" lengthAdjust="spacingAndGlyphs">HPT: 6 GPa, Room temperature</text>
<text x="696.30" y="516.00" font-size="12" textLength="162.4" lengthAdjust="spacingAndGlyphs">Total length of boundaries (&#956;m</text>
<text x="860.00" y="510.40" font-size="7.8" textLength="6.4" lengthAdjust="spacingAndGlyphs">-1</text>
<text x="867.00" y="516.00" font-size="12">)</text>
<path d="M657.00 349.40L685.70 341.60L787.60 365.50L793.30 347.80L795.20 334.50L805.10 352.20L810.80 351.50L827.60 363.20L848.50 364.80" fill="none" stroke="#c00000" stroke-width="1.55"/>
<path d="M657.00 339.30V359.30M655.50 339.30h3.0M655.50 359.30h3.0" stroke="#f2c0c0" stroke-width="0.8" fill="none"/>
<path d="M795.20 322.30V346.70M793.70 322.30h3.0M793.70 346.70h3.0" stroke="#f2c0c0" stroke-width="0.8" fill="none"/>
<path d="M805.10 347.80V356.80M803.60 347.80h3.0M803.60 356.80h3.0" stroke="#f2c0c0" stroke-width="0.8" fill="none"/>
<circle cx="657.00" cy="349.40" r="2.9" fill="#fff" stroke="#f2c0c0" stroke-width="0.8"/>
<circle cx="685.70" cy="341.60" r="2.9" fill="#fff" stroke="#f2c0c0" stroke-width="0.8"/>
<circle cx="787.60" cy="365.50" r="2.9" fill="#fff" stroke="#f2c0c0" stroke-width="0.8"/>
<circle cx="793.30" cy="347.80" r="2.9" fill="#fff" stroke="#f2c0c0" stroke-width="0.8"/>
<circle cx="795.20" cy="334.50" r="2.9" fill="#fff" stroke="#f2c0c0" stroke-width="0.8"/>
<circle cx="805.10" cy="352.20" r="2.9" fill="#fff" stroke="#f2c0c0" stroke-width="0.8"/>
<circle cx="810.80" cy="351.50" r="2.9" fill="#fff" stroke="#f2c0c0" stroke-width="0.8"/>
<circle cx="827.60" cy="363.20" r="2.9" fill="#fff" stroke="#f2c0c0" stroke-width="0.8"/>
<circle cx="848.50" cy="364.80" r="2.9" fill="#fff" stroke="#f2c0c0" stroke-width="0.8"/>
</svg>
</body></html>
